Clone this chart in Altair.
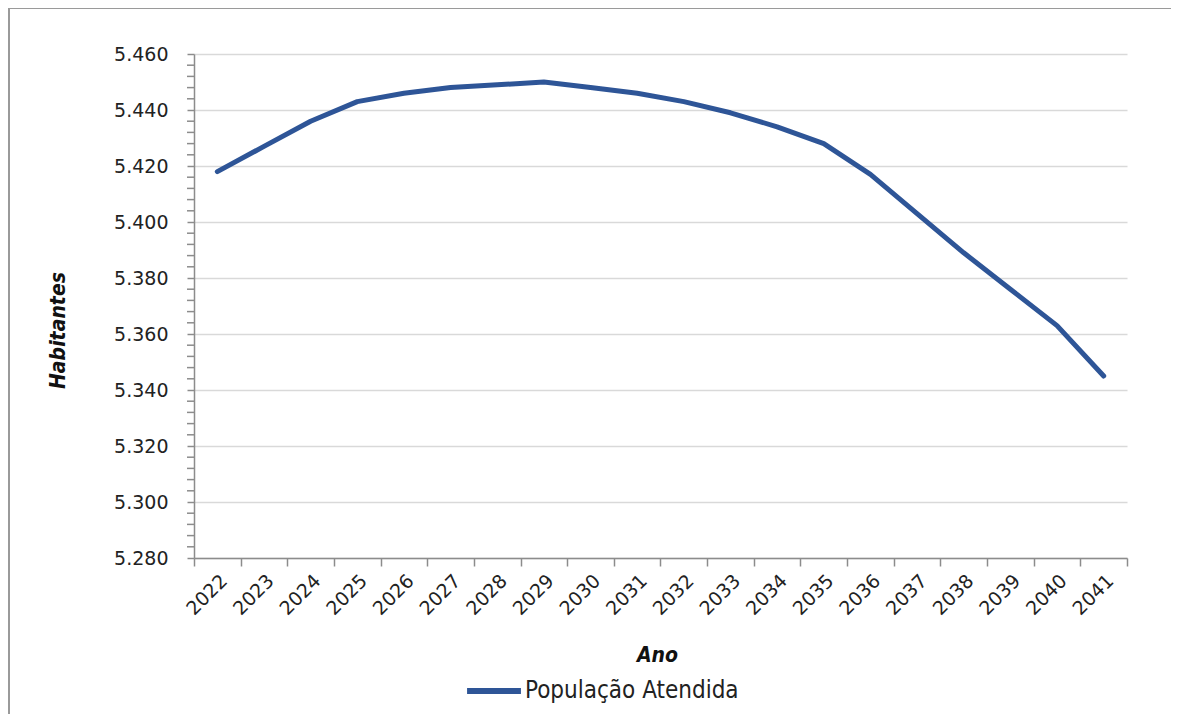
import altair as alt
import pandas as pd

anos = [str(a) for a in range(2022, 2042)]
populacao = [5418, 5427, 5436, 5443, 5446, 5448, 5449, 5450, 5448, 5446,
             5443, 5439, 5434, 5428, 5417, 5403, 5389, 5376, 5363, 5345]
serie = "População Atendida"
y_ticks = list(range(5280, 5461, 20))
y_minor = [v for v in range(5280, 5461, 4) if v % 20 != 0]

df = pd.DataFrame({"Ano": anos, "Habitantes": populacao, "Serie": serie})
minor_df = pd.DataFrame({"v": y_minor})

LABEL_FONT = "DejaVu Sans"
TITLE_FONT = "Liberation Sans Narrow, DejaVu Sans Condensed, sans-serif"
AX = "#8c8c8c"

W, H = 933, 504
PL, PT = 186, 46

line = alt.Chart(df).mark_line(strokeWidth=5, strokeCap="round", strokeJoin="round").encode(
    x=alt.X("Ano:N", sort=anos,
            scale=alt.Scale(type="band", paddingInner=0, paddingOuter=0),
            axis=alt.Axis(title="Ano", tickBand="extent", labelAngle=-45,
                          labelFont=LABEL_FONT, labelFontSize=19, labelColor="#222",
                          labelPadding=5, tickSize=8, tickColor=AX, domainColor=AX,
                          domainWidth=1.5, tickWidth=1.5, grid=False,
                          titleFont=TITLE_FONT, titleFontSize=21, titleFontStyle="italic",
                          titleFontWeight="bold", titleColor="#111",
                          titleX=463, titleY=97, titleBaseline="middle", titleAlign="center")),
    y=alt.Y("Habitantes:Q",
            scale=alt.Scale(domain=[5280, 5460], nice=False, zero=False),
            axis=alt.Axis(values=y_ticks, title="Habitantes",
                          labelExpr="replace(format(datum.value, ','), ',', '.')",
                          labelFont=LABEL_FONT, labelFontSize=19, labelColor="#222",
                          labelPadding=19, tickSize=7, tickColor=AX, tickWidth=1.5,
                          domainColor=AX, domainWidth=1.5,
                          grid=True, gridColor="#d9d9d9", gridWidth=1.5,
                          titleFont=TITLE_FONT, titleFontSize=21, titleFontStyle="italic",
                          titleFontWeight="bold", titleColor="#111", titleAngle=-90,
                          titleX=-136, titleY=276, titleBaseline="middle", titleAlign="center")),
    color=alt.Color("Serie:N", scale=alt.Scale(range=["#2E5597"]),
                    legend=alt.Legend(title=None, orient="none", legendX=270, legendY=607,
                                      symbolType="stroke", symbolSize=2900,
                                      symbolStrokeWidth=6, padding=0, labelLimit=0,
                                      labelFont=TITLE_FONT, labelFontSize=24,
                                      labelColor="#222", labelOffset=1)),
)

minor = alt.Chart(minor_df).mark_rule(color=AX, strokeWidth=1.5).encode(
    y="v:Q", x=alt.value(-7), x2=alt.value(0)
)

frame_top = alt.Chart(pd.DataFrame({"k": [0]})).mark_rule(color="#9a9a9a", strokeWidth=2).encode(
    x=alt.value(-PL + 1), x2=alt.value(W + 60), y=alt.value(-PT + 0)
)
frame_left = alt.Chart(pd.DataFrame({"k": [0]})).mark_rule(color="#9a9a9a", strokeWidth=2).encode(
    x=alt.value(-PL + 1), y=alt.value(-PT), y2=alt.value(H + 200)
)

chart = alt.layer(frame_top, frame_left, minor, line).properties(
    width=W, height=H,
    autosize=alt.AutoSizeParams(type="none"),
    padding={"left": PL, "top": PT, "right": 44, "bottom": 156},
).configure_view(stroke=None)

chart.save("out.html", embed_options={"renderer": "svg", "actions": False})
